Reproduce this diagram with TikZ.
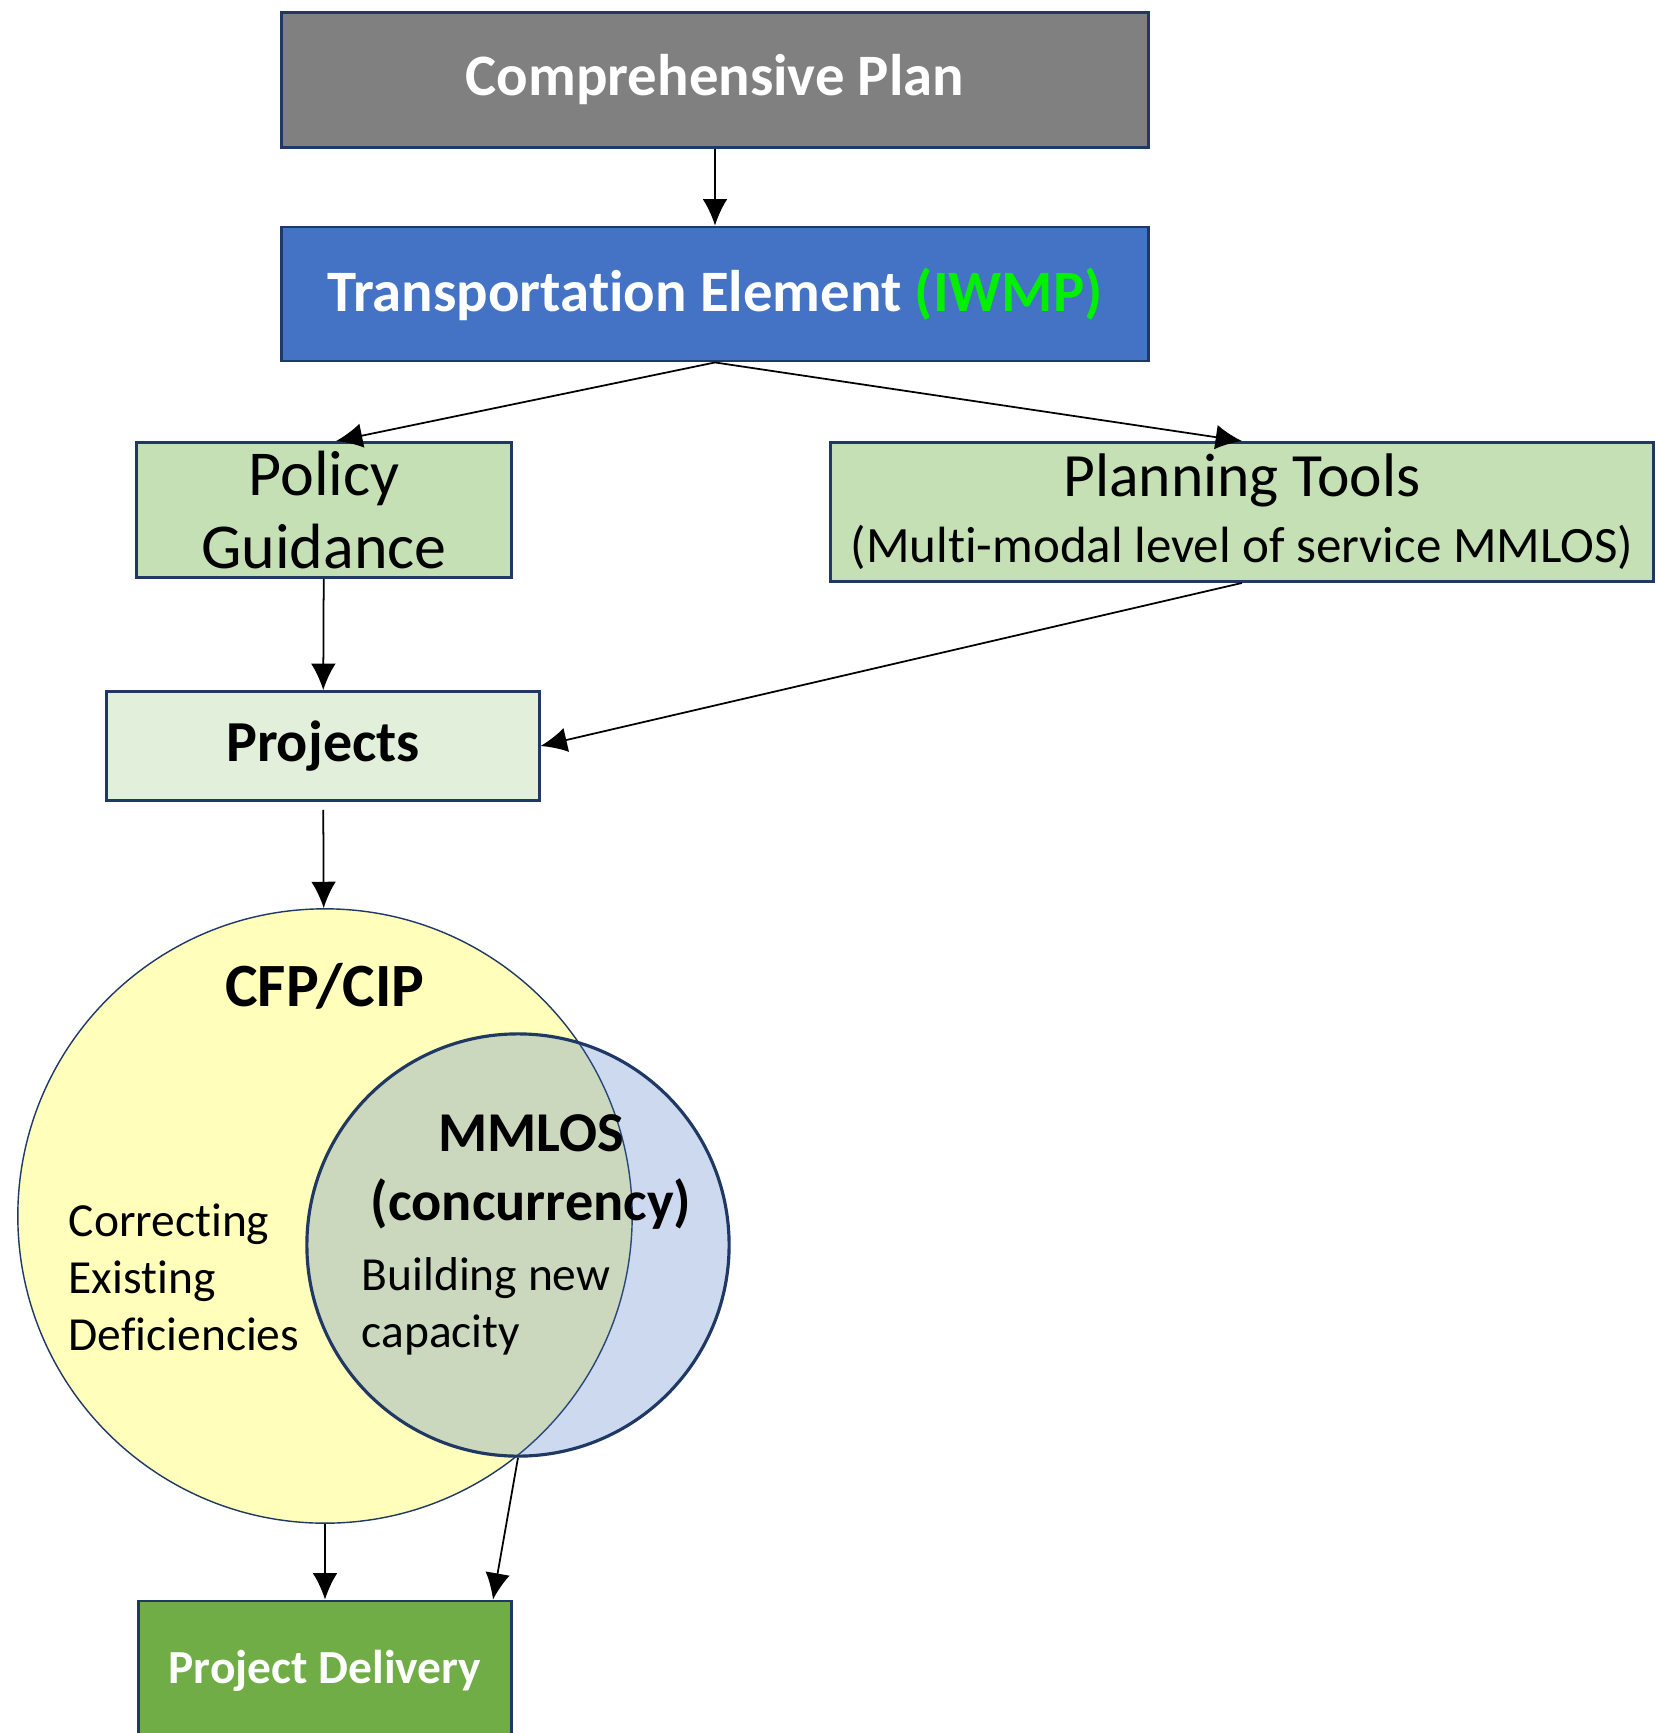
\documentclass[tikz,border=0pt]{standalone}
\usepackage{fontspec}
\setmainfont{Carlito}[Ligatures=NoCommon]
\usetikzlibrary{arrows.meta}
\definecolor{boxline}{HTML}{203864}
\definecolor{plangray}{HTML}{808080}
\definecolor{transblue}{HTML}{4472C4}
\definecolor{iwmpgreen}{HTML}{00F000}
\definecolor{toolgreen}{HTML}{C5E0B4}
\definecolor{projgreen}{HTML}{E2EFDA}
\definecolor{delivgreen}{HTML}{70AD47}
\definecolor{cfpyellow}{HTML}{FFFFBB}
\tikzset{
  box/.style={draw=boxline, line width=0.8pt, align=center, inner sep=0pt},
  flow/.style={-{Latex[length=7.5pt,width=7pt]}, line width=0.5pt},
}

\begin{document}
\begin{tikzpicture}[x=0.01cm, y=-0.01cm]
    \clip (0,0) rectangle (1656,1733);

    % Plan and element
    \node[box, fill=plangray, text=white, minimum width=8.66cm, minimum height=1.35cm,
          font=\fontsize{16.7}{20}\selectfont\bfseries] (comp) at (715,80) {Comprehensive Plan};
    \node[box, fill=transblue, text=white, minimum width=8.66cm, minimum height=1.34cm,
          font=\fontsize{16.7}{20}\selectfont\bfseries] (trans) at (715,294)
          {Transportation Element \textcolor{iwmpgreen}{(IWMP)}};

    % Guidance and tools
    \node[box, fill=toolgreen, minimum width=3.75cm, minimum height=1.35cm,
          font=\fontsize{18.2}{20.8}\selectfont] (pol) at (324,510) {Policy\\Guidance};
    \node[box, fill=toolgreen, minimum width=8.23cm, minimum height=1.39cm,
          font=\fontsize{17.5}{18.8}\selectfont] (plan) at (1242,512)
          {Planning Tools\\{\fontsize{14.5}{17}\selectfont(Multi-modal level of service MMLOS)}};

    % Projects
    \node[box, fill=projgreen, minimum width=4.32cm, minimum height=1.09cm,
          font=\fontsize{16.5}{20}\selectfont\bfseries] (proj) at (323,746) {Projects};

    % Venn circles
    \node[circle, draw=boxline, line width=0.4pt, fill=cfpyellow, minimum size=6.14cm,
          inner sep=0pt] (cfp) at (325,1216) {};
    \node[circle, draw=boxline, line width=0.9pt, fill=transblue, fill opacity=0.27,
          draw opacity=1, minimum size=4.22cm, inner sep=0pt] (mmlos) at (518,1245) {};
    \node[font=\fontsize{17.5}{21}\selectfont\bfseries] (cfplabel) at (325,986) {CFP/CIP};
    \node[align=center, font=\fontsize{16}{19.4}\selectfont\bfseries] (mmloslabel) at (531,1172)
          {MMLOS\\(concurrency)};
    \node[anchor=west, align=left, font=\fontsize{13.5}{16.2}\selectfont, inner sep=0pt] (fixlabel)
          at (68,1277) {Correcting\\Existing\\Deficiencies};
    \node[anchor=west, align=left, font=\fontsize{13.5}{16.2}\selectfont, inner sep=0pt] (buildlabel)
          at (361,1306) {Building new\\capacity};

    % Delivery
    \node[box, fill=delivgreen, text=white, minimum width=3.73cm, minimum height=1.4cm,
          font=\fontsize{13.5}{16}\selectfont\bfseries] (deliv) at (325,1671) {Project Delivery};

    % Arrows
    \draw[flow] (comp) -- (trans);
    \draw[flow] (trans.south) -- ([xshift=0.12cm]pol.north);
    \draw[flow] (trans.south) -- (plan.north);
    \draw[flow] (pol) -- (proj);
    \draw[flow] (plan.south) -- (proj.east);
    \draw[flow, shorten <=0.08cm] (proj) -- (cfp);
    \draw[flow] (cfp.south) -- (deliv.north);
    \draw[flow] (mmlos.south) -- ([xshift=-0.2cm]deliv.north east);
\end{tikzpicture}
\end{document}
